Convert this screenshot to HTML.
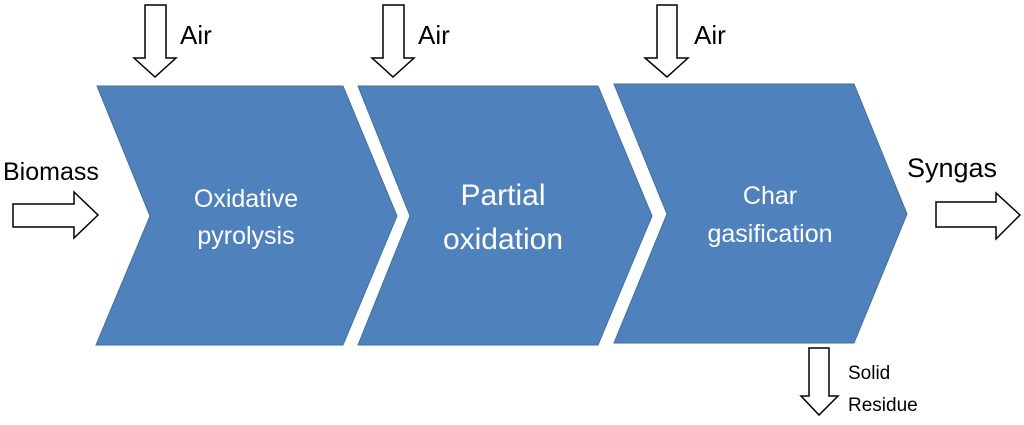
<!DOCTYPE html>
<html><head><style>
html,body{margin:0;padding:0;background:#fff;}
svg{display:block;}
</style></head><body>
<svg width="1024" height="425" viewBox="0 0 1024 425" xmlns="http://www.w3.org/2000/svg">
<g fill="#4f81bd" stroke="#41719c" stroke-width="1">
<polygon points="97,86 343,86 397,216 343,345 96,345 150,216"/>
<polygon points="358,86 598,86 652,216 598,345 358,345 410,216"/>
<polygon points="614,84 854,84 907,214 854,343 614,343 667,214"/>
</g>
<g fill="#fff" stroke="#000" stroke-width="1.5" stroke-linejoin="miter">
<polygon points="145,5 166,5 166,58 176,58 155,77 134,58 145,58"/>
<polygon points="383,5 404,5 404,58 414,58 393,77 372,58 383,58"/>
<polygon points="657,5 677,5 677,58 688,58 667,77 645,58 657,58"/>
<polygon points="13,204 74,204 74,192 98,215 74,238 74,227 13,227"/>
<polygon points="936,202 996,202 996,193 1020,215 996,239 996,227 936,227"/>
<polygon points="809,348 829,348 829,396 838,396 819,415 801,396 809,396"/>
</g>
<g font-family="Liberation Sans, sans-serif" fill="#000">
<text x="180" y="44" font-size="26">Air</text>
<text x="418" y="44" font-size="26">Air</text>
<text x="694" y="44" font-size="26">Air</text>
<text x="3" y="180" font-size="25">Biomass</text>
<text x="907" y="177" font-size="27">Syngas</text>
<text x="848" y="379" font-size="19">Solid</text>
<text x="848" y="411" font-size="19">Residue</text>
</g>
<g font-family="Liberation Sans, sans-serif" fill="#fff" text-anchor="middle">
<text x="246" y="207" font-size="25">Oxidative</text>
<text x="246" y="244" font-size="25">pyrolysis</text>
<text x="503" y="205" font-size="30">Partial</text>
<text x="503" y="249" font-size="30">oxidation</text>
<text x="770" y="204" font-size="25">Char</text>
<text x="770" y="242" font-size="25">gasification</text>
</g>
</svg>
</body></html>
